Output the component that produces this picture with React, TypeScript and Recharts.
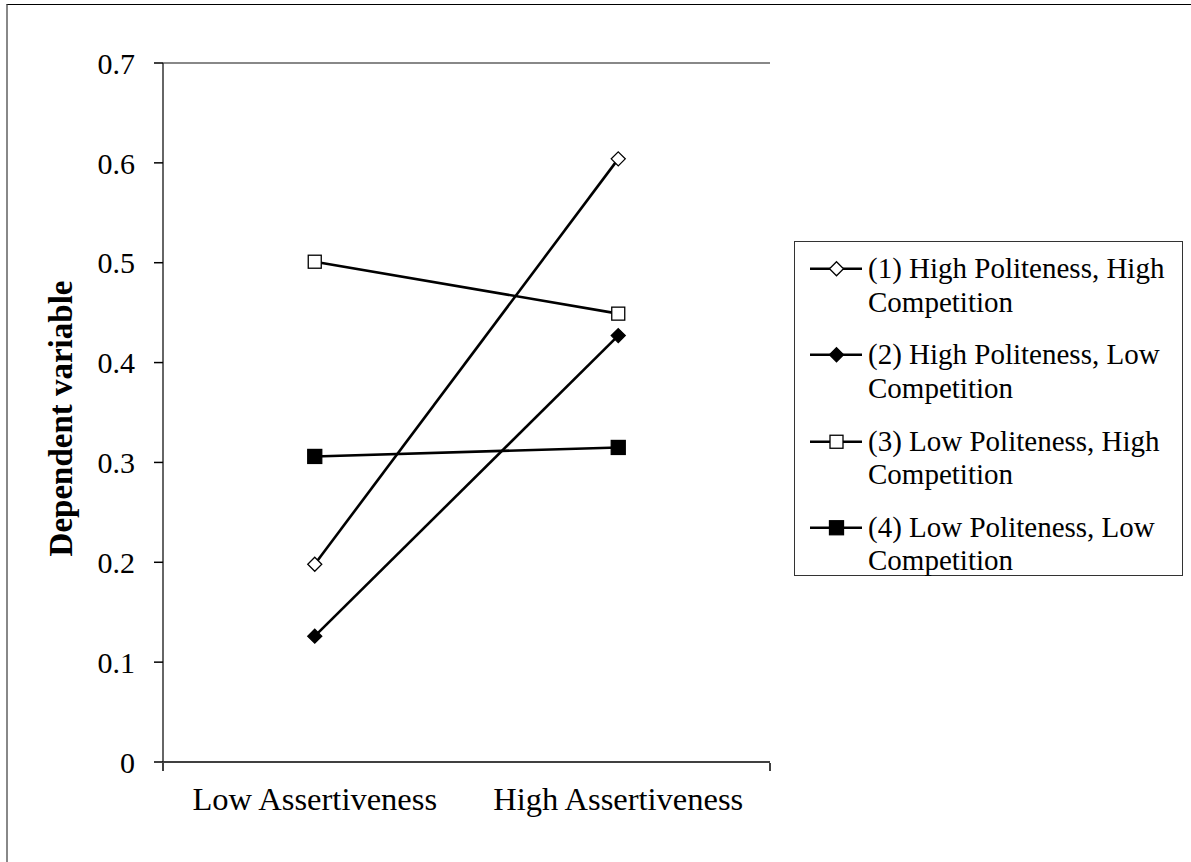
import { Line, LineChart, ReferenceLine, XAxis, YAxis } from 'recharts';

const categories = ['Low Assertiveness', 'High Assertiveness'];
const highPolHighComp = [0.198, 0.604];
const highPolLowComp = [0.126, 0.427];
const lowPolHighComp = [0.501, 0.449];
const lowPolLowComp = [0.306, 0.315];
const seriesNames = [
  '(1) High Politeness, High Competition',
  '(2) High Politeness, Low Competition',
  '(3) Low Politeness, High Competition',
  '(4) Low Politeness, Low Competition',
];
const yTicks = [0, 0.1, 0.2, 0.3, 0.4, 0.5, 0.6, 0.7];
const boundaryTicks = [0, 1, 2];

const data = categories.map((cat, i) => ({
  cat,
  s1: highPolHighComp[i],
  s2: highPolLowComp[i],
  s3: lowPolHighComp[i],
  s4: lowPolLowComp[i],
}));

const FONT = 'Liberation Serif, DejaVu Serif, serif';
const LINE_W = 2.6;

type MarkerKind = 'openDiamond' | 'diamond' | 'openSquare' | 'square';
const markers: MarkerKind[] = ['openDiamond', 'diamond', 'openSquare', 'square'];

function Marker({ kind, cx, cy }: { kind: MarkerKind; cx: number; cy: number }) {
  if (kind === 'openDiamond' || kind === 'diamond') {
    const r = 7;
    return (
      <path
        d={`M${cx},${cy - r}L${cx + r},${cy}L${cx},${cy + r}L${cx - r},${cy}Z`}
        fill={kind === 'diamond' ? '#000' : '#fff'}
        stroke="#000"
        strokeWidth={1.3}
      />
    );
  }
  const h = kind === 'square' ? 7 : 6.5;
  return (
    <rect
      x={cx - h}
      y={cy - h}
      width={h * 2}
      height={h * 2}
      fill={kind === 'square' ? '#000' : '#fff'}
      stroke="#000"
      strokeWidth={1.3}
    />
  );
}

const makeDot = (kind: MarkerKind) => (props: any) => {
  if (props.cx == null || props.cy == null) return <g key={props.key} />;
  return <Marker key={props.key} kind={kind} cx={props.cx} cy={props.cy} />;
};

function LegendBox() {
  return (
    <div
      style={{
        position: 'absolute',
        left: 794,
        top: 241,
        width: 389,
        height: 335,
        border: '1.5px solid #333',
        background: '#fff',
        fontFamily: FONT,
        fontSize: 29,
        lineHeight: '33.5px',
        color: '#000',
        boxSizing: 'border-box',
        paddingTop: 10,
      }}
    >
      {seriesNames.map((name, i) => (
        <div key={name} style={{ display: 'flex', alignItems: 'flex-start', marginBottom: 19.3 }}>
          <svg width={73} height={33.5} style={{ flex: 'none' }}>
            <line x1={15} x2={67} y1={16.75} y2={16.75} stroke="#000" strokeWidth={LINE_W} />
            <Marker kind={markers[i]} cx={41.5} cy={16.75} />
          </svg>
          <div style={{ width: 305 }}>{name}</div>
        </div>
      ))}
    </div>
  );
}

export default function App() {
  return (
    <div style={{ position: 'absolute', left: 0, top: 0, width: 1191, height: 862, background: '#fff' }}>
      <div style={{ position: 'absolute', left: 6, top: 4, width: 1185, height: 858, borderTop: '1.5px solid #000', borderLeft: '2px solid #888' }} />
      <LineChart
        width={1191}
        height={862}
        data={data}
        margin={{ top: 63, right: 421, bottom: 98, left: 103 }}
        style={{ position: 'absolute', left: 0, top: 0 }}
      >
        <XAxis
          dataKey="cat"
          type="category"
          scale="band"
          height={1}
          tickLine={false}
          axisLine={{ stroke: '#000', strokeWidth: 1.5 }}
          tickMargin={19}
          tick={{ fontFamily: FONT, fontSize: 32.5, fill: '#000' }}
          interval={0}
        />
        <XAxis
          xAxisId="bounds"
          type="number"
          domain={[0, 2]}
          ticks={boundaryTicks}
          allowDataOverflow
          height={1}
          tick={<g />}
          axisLine={false}
          tickSize={8}
          tickLine={{ stroke: '#000', strokeWidth: 1.5 }}
        />
        <YAxis
          width={60}
          domain={[0, 0.7]}
          ticks={yTicks}
          interval={0}
          tickSize={9}
          tickMargin={19}
          axisLine={{ stroke: '#333', strokeWidth: 1.5 }}
          tickLine={{ stroke: '#000', strokeWidth: 1.5 }}
          tick={{ fontFamily: FONT, fontSize: 30, fill: '#000' }}
          tickFormatter={(v: number) => (v === 0 ? '0' : v.toFixed(1))}
          label={{
            content: ({ viewBox }: any) => {
              const cx = viewBox.x - 42;
              const cy = viewBox.y + viewBox.height / 2 + 6;
              return (
                <text
                  x={cx}
                  y={cy}
                  transform={`rotate(-90 ${cx} ${cy})`}
                  textAnchor="middle"
                  dominantBaseline="central"
                  fontFamily={FONT}
                  fontSize={33}
                  fontWeight="bold"
                  fill="#000"
                >
                  Dependent variable
                </text>
              );
            },
          }}
        />
        <ReferenceLine y={0.7} stroke="#888" strokeWidth={2} />
        <ReferenceLine x={2} xAxisId="bounds" stroke="#888" strokeWidth={2} />
        <Line dataKey="s1" name={seriesNames[0]} stroke="#000" strokeWidth={LINE_W} dot={makeDot('openDiamond')} isAnimationActive={false} />
        <Line dataKey="s2" name={seriesNames[1]} stroke="#000" strokeWidth={LINE_W} dot={makeDot('diamond')} isAnimationActive={false} />
        <Line dataKey="s3" name={seriesNames[2]} stroke="#000" strokeWidth={LINE_W} dot={makeDot('openSquare')} isAnimationActive={false} />
        <Line dataKey="s4" name={seriesNames[3]} stroke="#000" strokeWidth={LINE_W} dot={makeDot('square')} isAnimationActive={false} />
      </LineChart>
      <LegendBox />
    </div>
  );
}
